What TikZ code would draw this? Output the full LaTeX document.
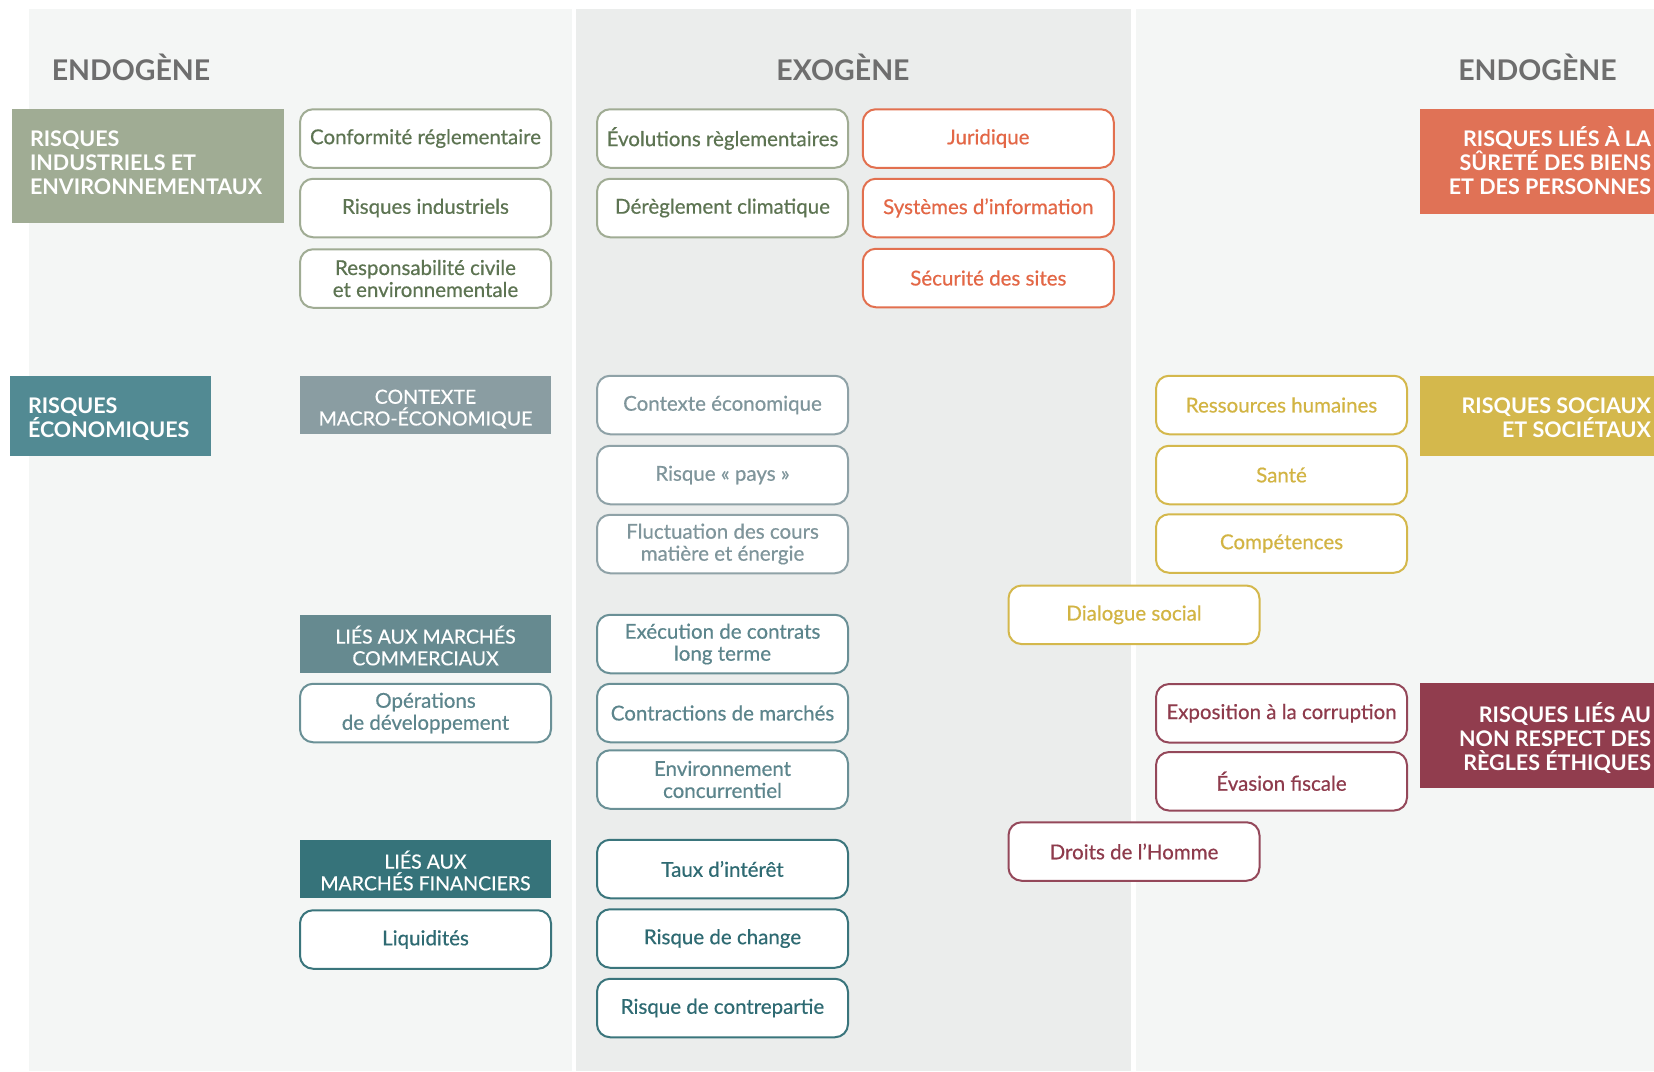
\documentclass[tikz,border=0pt]{standalone}
\usepackage{fontspec}
\setmainfont{Lato}
\newfontfamily\latomed{Lato}[FakeBold=0.5]
\definecolor{panelL}{HTML}{F4F6F5}
\definecolor{panelM}{HTML}{EBEDEC}
\definecolor{hdr}{HTML}{6E6E6E}
\definecolor{greenF}{HTML}{A0AC94}
\definecolor{greenT}{HTML}{5D7452}
\definecolor{orgF}{HTML}{E07256}
\definecolor{orgB}{HTML}{E2704F}
\definecolor{orgT}{HTML}{E36746}
\definecolor{tealF}{HTML}{528A93}
\definecolor{ctxF}{HTML}{8A9DA2}
\definecolor{ctxB}{HTML}{8FA2A7}
\definecolor{ctxT}{HTML}{7F959B}
\definecolor{comF}{HTML}{668A90}
\definecolor{comB}{HTML}{6A9096}
\definecolor{comT}{HTML}{5C858C}
\definecolor{finF}{HTML}{36737A}
\definecolor{finB}{HTML}{3A757C}
\definecolor{finT}{HTML}{2E6A72}
\definecolor{yelF}{HTML}{D4B84C}
\definecolor{yelT}{HTML}{D2B443}
\definecolor{burF}{HTML}{913D4E}
\definecolor{burB}{HTML}{94485A}
\definecolor{burT}{HTML}{8E3B4C}
\newcommand\myboxfont{\latomed\fontsize{20.5}{22}\selectfont}
\newcommand\mysubfont{\latomed\fontsize{19.5}{21.7}\selectfont}
\newcommand\mycatfont{\fontsize{21.5}{24}\selectfont\bfseries}
\newcommand\myhdrfont{\fontsize{28.5}{30}\selectfont\bfseries}
\begin{document}
\begin{tikzpicture}[x=1pt,y=-1pt,
  bx/.style n args={2}{draw=#1, text=#2, fill=white, rounded corners=13pt, line width=2pt,
    minimum width=251pt, minimum height=58.5pt, inner sep=0pt, align=center, font=\myboxfont},
  subcat/.style={fill=#1, minimum width=251pt, minimum height=58pt, inner sep=0pt},
  subtxt/.style={text=white, inner sep=0pt, align=center, font=\mysubfont},
  catbox/.style={fill=#1, inner sep=0pt},
  catL/.style={text=white, inner sep=0pt, align=left, font=\mycatfont, anchor=west},
  catR/.style={text=white, inner sep=0pt, align=right, font=\mycatfont, anchor=east},
  hdrtxt/.style={text=hdr, font=\myhdrfont, inner sep=0pt}]
\useasboundingbox (0,0) rectangle (1654,1071);
\fill[white] (0,0) rectangle (1654,1071);
\fill[panelL] (28.7,9) rectangle (572,1071);
\fill[panelM] (576,9) rectangle (1130.5,1071);
\fill[panelL] (1135.5,9) rectangle (1654,1071);
% headers
\node[hdrtxt] (h1) at (131,67) {ENDOGÈNE};
\node[hdrtxt] (h2) at (843,67) {EXOGÈNE};
\node[hdrtxt] (h3) at (1537.5,67) {ENDOGÈNE};
% category boxes
\node[catbox=greenF, minimum width=272pt, minimum height=114pt] (cInd) at (148,165.8) {};
\node[catL, yshift=3pt] (cIndT) at ([xshift=18pt]cInd.west) {RISQUES\\INDUSTRIELS ET\\ENVIRONNEMENTAUX};
\node[catbox=tealF, minimum width=201pt, minimum height=80pt] (cEco) at (110.5,416) {};
\node[catL, yshift=-3pt] (cEcoT) at ([xshift=18pt]cEco.west) {RISQUES\\ÉCONOMIQUES};
\node[catbox=orgF, minimum width=240pt, minimum height=104.7pt] (cSur) at (1540,161.4) {};
\node[catR, yshift=1pt] (cSurT) at ([xshift=-9pt]cSur.east) {RISQUES LIÉS À LA\\SÛRETÉ DES BIENS\\ET DES PERSONNES};
\node[catbox=yelF, minimum width=240pt, minimum height=80pt] (cSoc) at (1540,416) {};
\node[catR, yshift=-2pt] (cSocT) at ([xshift=-9pt]cSoc.east) {RISQUES SOCIAUX\\ET SOCIÉTAUX};
\node[catbox=burF, minimum width=240pt, minimum height=105pt] (cEth) at (1540,735.2) {};
\node[catR, yshift=-3pt] (cEthT) at ([xshift=-9pt]cEth.east) {RISQUES LIÉS AU\\NON RESPECT DES\\RÈGLES ÉTHIQUES};
% column 1
\node[bx={greenF}{greenT}] (conf) at (425.5,138.5) {Conformité réglementaire};
\node[bx={greenF}{greenT}] (indus) at (425.5,208) {Risques industriels};
\node[bx={greenF}{greenT}] (resp) at (425.5,278.5) {Responsabilité civile\\et environnementale};
\node[subcat=ctxF] (ctx) at (425.5,405) {};
\node[subtxt, yshift=-4pt] (ctxL) at (ctx.center) {CONTEXTE\\MACRO-ÉCONOMIQUE};
\node[subcat=comF] (comm) at (425.5,644) {};
\node[subtxt, yshift=-1.5pt] (commL) at (comm.center) {LIÉS AUX MARCHÉS\\COMMERCIAUX};
\node[bx={comB}{comT}] (oper) at (425.5,713) {Opérations\\de développement};
\node[subcat=finF] (fin) at (425.5,869) {};
\node[subtxt, yshift=-1.5pt] (finL) at (fin.center) {LIÉS AUX\\MARCHÉS FINANCIERS};
\node[bx={finB}{finT}] (liq) at (425.5,939.5) {Liquidités};
% column 2
\node[bx={greenF}{greenT}] (evol) at (722.5,138.5) {Évolutions règlementaires};
\node[bx={greenF}{greenT}] (dereg) at (722.5,208) {Dérèglement climatique};
\node[bx={ctxB}{ctxT}] (ctxeco) at (722.5,405) {Contexte économique};
\node[bx={ctxB}{ctxT}] (pays) at (722.5,475) {Risque «~pays~»};
\node[bx={ctxB}{ctxT}] (fluct) at (722.5,544) {Fluctuation des cours\\matière et énergie};
\node[bx={comB}{comT}] (exec) at (722.5,644) {Exécution de contrats\\long terme};
\node[bx={comB}{comT}] (contr) at (722.5,713) {Contractions de marchés};
\node[bx={comB}{comT}] (envc) at (722.5,779.5) {Environnement\\concurrentiel};
\node[bx={finB}{finT}] (taux) at (722.5,869) {Taux d’intérêt};
\node[bx={finB}{finT}] (change) at (722.5,938.5) {Risque de change};
\node[bx={finB}{finT}] (contrep) at (722.5,1008) {Risque de contrepartie};
% column 3
\node[bx={orgB}{orgT}] (jur) at (988.3,138.5) {Juridique};
\node[bx={orgB}{orgT}] (si) at (988.3,208) {Systèmes d’information};
\node[bx={orgB}{orgT}] (secu) at (988.3,278) {Sécurité des sites};
% column 4
\node[bx={yelF}{yelT}] (rh) at (1281.5,405) {Ressources humaines};
\node[bx={yelF}{yelT}] (sante) at (1281.5,475) {Santé};
\node[bx={yelF}{yelT}] (comp) at (1281.5,543.5) {Compétences};
\node[bx={yelF}{yelT}] (dial) at (1134,614.8) {Dialogue social};
\node[bx={burB}{burT}] (corr) at (1281.5,713.3) {Exposition à la corruption};
\node[bx={burB}{burT}] (evas) at (1281.5,781.3) {Évasion fiscale};
\node[bx={burB}{burT}] (droits) at (1134,851.5) {Droits de l’Homme};
\end{tikzpicture}
\end{document}
